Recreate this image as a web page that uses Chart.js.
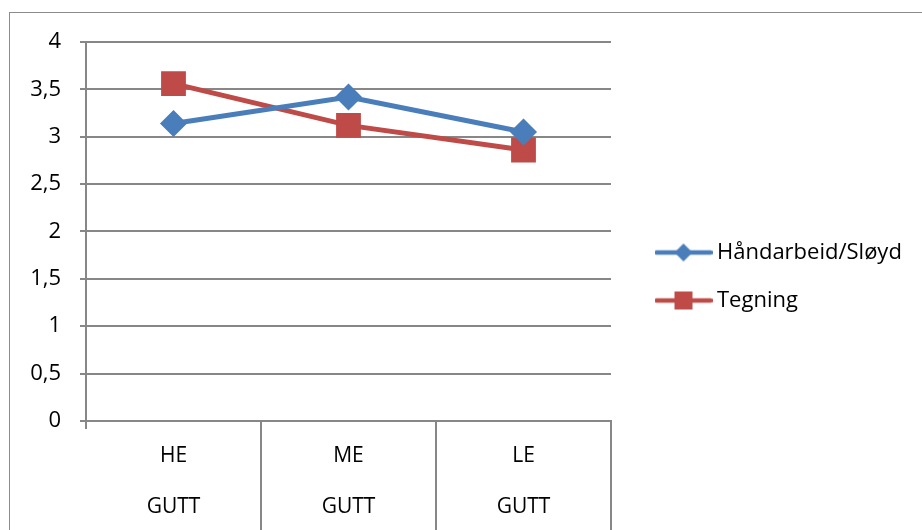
<!DOCTYPE html>
<html lang="no">
  <head>
    <meta charset="UTF-8" />
    <title>Håndarbeid/Sløyd og Tegning</title>
    <script src="https://cdn.jsdelivr.net/npm/chart.js@4.4.0/dist/chart.umd.min.js"></script>
    <style>
      html,
      body {
        margin: 0;
        padding: 0;
        background: #ffffff;
        overflow: hidden;
      }
      .wrap {
        position: relative;
        width: 922px;
        height: 530px;
      }
      .frame {
        position: absolute;
        left: 9px;
        top: 12px;
        width: 1000px;
        height: 600px;
        border: 1px solid #8c8c8c;
        pointer-events: none;
      }
    </style>
  </head>
  <body>
    <div class="wrap">
      <canvas id="chart" width="922" height="530"></canvas>
      <div class="frame"></div>
    </div>

    <script>
      // data
      const categories = ["HE", "ME", "LE"];
      const groupLabel = "GUTT";
      const seriesNames = ["Håndarbeid/Sløyd", "Tegning"];
      const handarbeid = [3.14, 3.42, 3.05];
      const tegning = [3.56, 3.12, 2.86];
      const yTickLabels = ["0", "0,5", "1", "1,5", "2", "2,5", "3", "3,5", "4"];

      const blue = "#4a7ebb";
      const red = "#be4b48";
      const gridColor = "#878787";
      const fontFamily = "'Open Sans', Lato, sans-serif";
      const legendWidth = 287;

      // legend symbol: line with marker in the middle
      function legendSymbol(color, shape) {
        const c = document.createElement("canvas");
        c.width = 58;
        c.height = 22;
        const g = c.getContext("2d");
        g.strokeStyle = color;
        g.lineWidth = 4.5;
        g.lineCap = "round";
        g.beginPath();
        g.moveTo(2, 11);
        g.lineTo(56, 11);
        g.stroke();
        g.fillStyle = color;
        if (shape === "diamond") {
          g.beginPath();
          g.moveTo(29, 2);
          g.lineTo(38, 11);
          g.lineTo(29, 20);
          g.lineTo(20, 11);
          g.closePath();
          g.fill();
        } else {
          g.fillRect(20, 2, 18, 18);
        }
        return c;
      }

      const symbols = [legendSymbol(blue, "diamond"), legendSymbol(red, "square")];

      // category separators running down through the label area
      const categoryDividers = {
        id: "categoryDividers",
        afterDraw(chart) {
          const xs = chart.scales.x;
          const ctx = chart.ctx;
          const n = xs.ticks.length;
          const half = (xs.getPixelForTick(1) - xs.getPixelForTick(0)) / 2;
          ctx.save();
          ctx.strokeStyle = gridColor;
          ctx.lineWidth = 2;
          ctx.beginPath();
          for (let i = 0; i < n; i++) {
            const x = Math.round(xs.getPixelForTick(i) + half);
            ctx.moveTo(x, xs.top);
            ctx.lineTo(x, chart.height);
          }
          ctx.stroke();
          ctx.restore();
        },
      };

      // give the legend a fixed width instead of the layout's share
      const wideLegend = {
        id: "wideLegend",
        afterInit(chart) {
          const leg = chart.legend;
          const orig = leg.update.bind(leg);
          leg.update = (w, h, m) => {
            orig(legendWidth, h, m);
            leg.width = legendWidth;
          };
        },
      };

      new Chart(document.getElementById("chart"), {
        type: "line",
        data: {
          labels: categories.map((c) => [c, groupLabel]),
          datasets: [
            {
              label: seriesNames[0],
              data: handarbeid,
              borderColor: blue,
              backgroundColor: blue,
              borderWidth: 5,
              pointStyle: "rectRot",
              pointRadius: 10,
              pointHoverRadius: 10,
            },
            {
              label: seriesNames[1],
              data: tegning,
              borderColor: red,
              backgroundColor: red,
              borderWidth: 5,
              pointStyle: "rect",
              pointRadius: 14,
              pointHoverRadius: 14,
            },
          ],
        },
        options: {
          responsive: false,
          animation: false,
          layout: { padding: { left: 10, top: 18, right: 0, bottom: -5 } },
          scales: {
            x: {
              offset: true,
              grid: {
                offset: true,
                drawOnChartArea: false,
                tickLength: 8,
                color: gridColor,
                lineWidth: 2,
              },
              border: { color: gridColor, width: 2 },
              ticks: {
                padding: 2,
                maxRotation: 0,
                autoSkip: false,
                color: "#000",
                font: { family: fontFamily, size: 21, lineHeight: 2.43 },
              },
            },
            topGap: {
              type: "category",
              position: "top",
              display: true,
              ticks: { display: false },
              grid: { display: false },
              border: { display: false },
              afterFit: (s) => {
                s.height = 24;
              },
            },
            y: {
              min: 0,
              max: 4,
              ticks: {
                stepSize: 0.5,
                padding: 19,
                color: "#000",
                font: { family: fontFamily, size: 22 },
                callback: (v, i) => yTickLabels[i],
              },
              grid: { tickLength: 6, color: gridColor, lineWidth: 2 },
              border: { color: gridColor, width: 2 },
              afterFit: (s) => {
                s.width = 76;
              },
            },
            gap: {
              position: "right",
              display: true,
              ticks: { display: false },
              grid: { display: false },
              border: { display: false },
              afterFit: (s) => {
                s.width = 24;
              },
            },
          },
          plugins: {
            tooltip: { enabled: false },
            legend: {
              position: "right",
              labels: {
                usePointStyle: true,
                pointStyleWidth: 45,
                padding: 26,
                color: "#000",
                font: { family: fontFamily, size: 22 },
                generateLabels: (chart) =>
                  chart.data.datasets.map((ds, i) => ({
                    text: ds.label,
                    pointStyle: symbols[i],
                    fillStyle: ds.borderColor,
                    strokeStyle: ds.borderColor,
                    lineWidth: 0,
                    datasetIndex: i,
                  })),
              },
            },
          },
        },
        plugins: [categoryDividers, wideLegend],
      });
    </script>
  </body>
</html>
